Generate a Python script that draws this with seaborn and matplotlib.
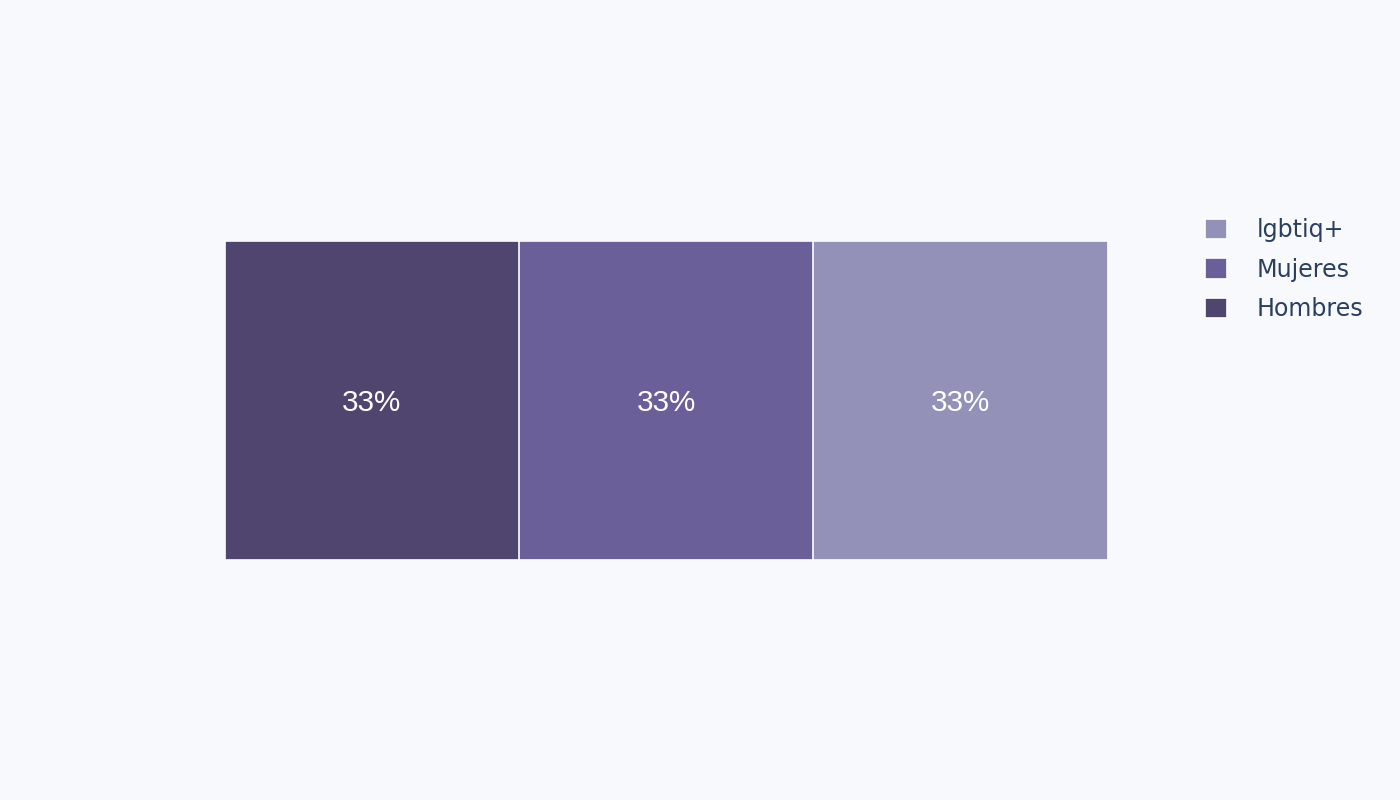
import numpy as np
import pandas as pd
import matplotlib
matplotlib.use("Agg")
import matplotlib.pyplot as plt
import seaborn as sns

# data
groups = ['Hombres', 'Mujeres', 'lgbtiq+']
shares = [33.33, 33.33, 33.33]
colors = ['#4f456e', '#6a5f99', '#9391b8']

BG = '#f8f9fd'

sns.set_style("white")
plt.rcParams['font.family'] = ['DejaVu Sans']

# stacked bar via overlaid cumulative bars, widest first
cum = np.cumsum(shares)
df = pd.DataFrame({'grupo': groups, 'cum': cum, 'row': ['']*len(groups)})
order = groups[::-1]
palette = dict(zip(groups, colors))

fig = plt.figure(figsize=(14, 8), dpi=100, facecolor=BG)
ax = fig.add_axes([224.5/1400, 240.5/800, (1107.5-224.5)/1400, (559.5-240.5)/800])
ax.set_facecolor(BG)

sns.barplot(data=df, x='cum', y='row', hue='grupo', hue_order=order,
            palette=palette, dodge=False, width=1.0, orient='h',
            saturation=1, edgecolor='white', linewidth=1.2, ax=ax)

ax.set_xlim(0, cum[-1])
ax.set_ylim(0.5, -0.5)
ax.set_xlabel('')
ax.set_ylabel('')
ax.set_xticks([])
ax.set_yticks([])
for s in ax.spines.values():
    s.set_visible(False)

# percentage labels in the middle of each segment
starts = np.concatenate([[0], cum[:-1]])
for st, v in zip(starts, shares):
    ax.annotate(f'{v:.0f}%', (st + v/2, 0), xytext=(0, -8.2),
                textcoords='offset points', ha='center', va='baseline',
                color='white', fontsize=21.3,
                family=['Liberation Sans', 'DejaVu Sans'])

handles, labels = ax.get_legend_handles_labels()
ax.legend(handles, labels, loc='upper left',
          bbox_to_anchor=(1195/1400, 1 - 209/800), bbox_transform=fig.transFigure,
          frameon=False, fontsize=17.1, labelcolor='#2a3f5f',
          handlelength=0.93, handleheight=0.93, handletextpad=1.25,
          labelspacing=0.64, borderaxespad=0)

fig.savefig('out.png', dpi=100, facecolor=BG)
